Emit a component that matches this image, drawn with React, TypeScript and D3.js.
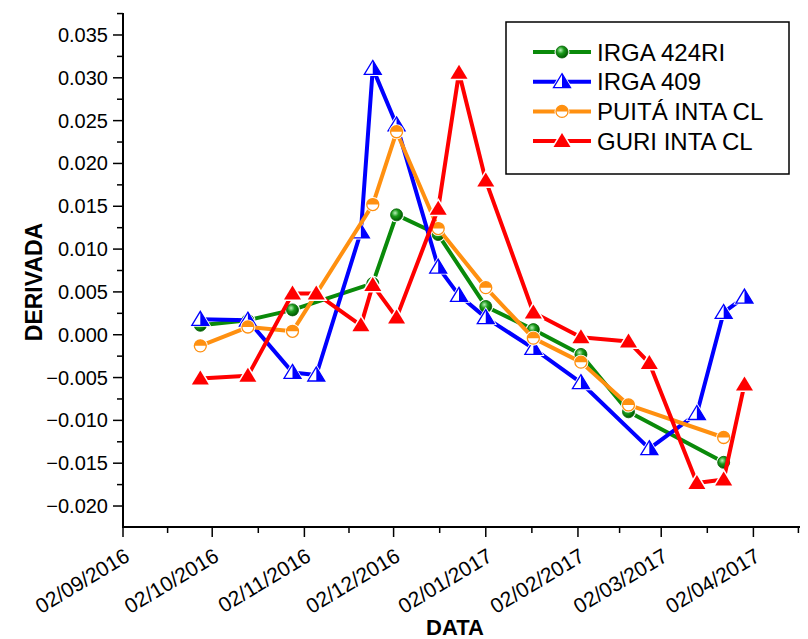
import React, { useEffect, useRef } from 'react';
import * as d3 from 'd3';

// dates of each series (dd)
const dates424 = ["2016-09-28", "2016-10-14", "2016-10-29", "2016-11-25", "2016-12-03", "2016-12-17", "2017-01-02", "2017-01-18", "2017-02-03", "2017-02-19", "2017-03-23"];
const irga424 = [0.0011, 0.0017, 0.0029, 0.0060, 0.0140, 0.0117, 0.0033, 0.0006, -0.0023, -0.0090, -0.0149];

const dates409 = ["2016-09-28", "2016-10-14", "2016-10-29", "2016-11-06", "2016-11-21", "2016-11-25", "2016-12-03", "2016-12-17", "2016-12-24", "2017-01-02", "2017-01-18", "2017-02-03", "2017-02-26", "2017-03-14", "2017-03-23", "2017-03-30"];
const irga409 = [0.0018, 0.0017, -0.0044, -0.0047, 0.0120, 0.0311, 0.0245, 0.0079, 0.0046, 0.0020, -0.0016, -0.0056, -0.0133, -0.0092, 0.0026, 0.0044];

const datesPuita = ["2016-09-28", "2016-10-14", "2016-10-29", "2016-11-25", "2016-12-03", "2016-12-17", "2017-01-02", "2017-01-18", "2017-02-03", "2017-02-19", "2017-03-23"];
const puita = [-0.0013, 0.0009, 0.0004, 0.0152, 0.0237, 0.0124, 0.0055, -0.0004, -0.0032, -0.0082, -0.0120];

const datesGuri = ["2016-09-28", "2016-10-14", "2016-10-29", "2016-11-06", "2016-11-21", "2016-11-25", "2016-12-03", "2016-12-17", "2016-12-24", "2017-01-02", "2017-01-18", "2017-02-03", "2017-02-19", "2017-02-26", "2017-03-14", "2017-03-23", "2017-03-30"];
const guri = [-0.0051, -0.0048, 0.0048, 0.0048, 0.0011, 0.0058, 0.0020, 0.0147, 0.0306, 0.0180, 0.0026, -0.0003, -0.0008, -0.0033, -0.0173, -0.0169, -0.0058];

const xTickDates = ["2016-09-02", "2016-10-02", "2016-11-02", "2016-12-02", "2017-01-02", "2017-02-02", "2017-03-02", "2017-04-02"];
const yTicks = [-0.020, -0.015, -0.010, -0.005, 0.000, 0.005, 0.010, 0.015, 0.020, 0.025, 0.030, 0.035];

const seriesNames = ["IRGA 424RI", "IRGA 409", "PUITÁ INTA CL", "GURI INTA CL"];

const FONT = "'Liberation Sans', Arial, sans-serif";
const GREEN = "#0a8a0a";
const BLUE = "#0000ff";
const ORANGE = "#ff9010";
const RED = "#ff0000";

const parse = d3.timeParse("%Y-%m-%d");

const App = () => {
    const ref = useRef(null);

    useEffect(() => {
        const width = 808;
        const height = 639;
        const left = 123, right = 798, top = 14, bottom = 527;

        const x = d3.scaleTime()
            .domain([parse("2016-09-02"), parse("2017-04-17")])
            .range([left, right]);
        const y = d3.scaleLinear()
            .domain([-0.02245, 0.03745])
            .range([bottom, top]);

        const svg = d3.select(ref.current)
            .attr("width", width)
            .attr("height", height);
        svg.selectAll('*').remove();

        const defs = svg.append("defs");
        const grad = defs.append("radialGradient")
            .attr("id", "ball")
            .attr("cx", "38%").attr("cy", "35%").attr("r", "65%");
        grad.append("stop").attr("offset", "0%").attr("stop-color", "#b8f0b8");
        grad.append("stop").attr("offset", "45%").attr("stop-color", "#1a9a1a");
        grad.append("stop").attr("offset", "100%").attr("stop-color", "#005a00");

        const tri = "M0,-8L8.5,6L-8.5,6Z";
        const triRight = "M0,-8L8.5,6L0,6Z";

        // marker drawers (halo = white gap under the symbol)
        const markers = [
            (g, halo) => {
                if (halo) { g.append("circle").attr("r", 6).attr("fill", "#fff").attr("stroke", "#fff").attr("stroke-width", 3); return; }
                g.append("circle").attr("r", 6).attr("fill", "url(#ball)").attr("stroke", "#006000").attr("stroke-width", 0.8);
            },
            (g, halo) => {
                if (halo) { g.append("path").attr("d", tri).attr("fill", "#fff").attr("stroke", "#fff").attr("stroke-width", 3); return; }
                g.append("path").attr("d", tri).attr("fill", "#fff");
                g.append("path").attr("d", triRight).attr("fill", BLUE);
                g.append("path").attr("d", tri).attr("fill", "none").attr("stroke", BLUE).attr("stroke-width", 1.3);
            },
            (g, halo) => {
                if (halo) { g.append("circle").attr("r", 6).attr("fill", "#fff").attr("stroke", "#fff").attr("stroke-width", 3); return; }
                g.append("circle").attr("r", 6).attr("fill", "#fff");
                g.append("path").attr("d", "M-6,0A6,6 0 0 1 6,0Z").attr("fill", ORANGE);
                g.append("circle").attr("r", 6).attr("fill", "none").attr("stroke", ORANGE).attr("stroke-width", 1.3);
            },
            (g, halo) => {
                if (halo) { g.append("path").attr("d", tri).attr("fill", "#fff").attr("stroke", "#fff").attr("stroke-width", 3); return; }
                g.append("path").attr("d", tri).attr("fill", RED);
            }
        ];

        const series = [
            { dates: dates424, values: irga424, color: GREEN },
            { dates: dates409, values: irga409, color: BLUE },
            { dates: datesPuita, values: puita, color: ORANGE },
            { dates: datesGuri, values: guri, color: RED },
        ];

        const line = d3.line()
            .x(d => x(d[0]))
            .y(d => y(d[1]));

        series.forEach((s, i) => {
            const pts = s.dates.map((d, j) => [parse(d), s.values[j]]);
            const g = svg.append("g");
            g.append("path")
                .attr("d", line(pts))
                .attr("fill", "none")
                .attr("stroke", s.color)
                .attr("stroke-width", 4)
                .attr("stroke-linejoin", "round");
            pts.forEach(p => markers[i](g.append("g").attr("transform", `translate(${x(p[0])},${y(p[1])})`), true));
            pts.forEach(p => markers[i](g.append("g").attr("transform", `translate(${x(p[0])},${y(p[1])})`), false));
        });

        // y axis
        const ya = svg.append("g").attr("stroke", "#000");
        ya.append("line").attr("x1", left).attr("x2", left).attr("y1", top - 1).attr("y2", bottom + 1).attr("stroke-width", 2);
        yTicks.forEach(t => {
            ya.append("line").attr("x1", left - 10).attr("x2", left).attr("y1", y(t)).attr("y2", y(t)).attr("stroke-width", 1.5);
        });
        yTicks.forEach(t => {
            const m = t - 0.0025;
            if (m >= y.domain()[0]) ya.append("line").attr("x1", left - 6).attr("x2", left).attr("y1", y(m)).attr("y2", y(m)).attr("stroke-width", 1.5);
        });
        ya.append("line").attr("x1", left - 6).attr("x2", left).attr("y1", y(0.0375)).attr("y2", y(0.0375)).attr("stroke-width", 1.5);
        svg.append("g")
            .attr("font-family", FONT)
            .attr("font-size", 20)
            .attr("text-anchor", "end")
            .selectAll("text")
            .data(yTicks)
            .join("text")
            .attr("x", left - 15)
            .attr("y", d => y(d) + 7)
            .text(d => d3.format(".3f")(d));

        // x axis
        const xa = svg.append("g").attr("stroke", "#000");
        xa.append("line").attr("x1", left - 1).attr("x2", right + 2).attr("y1", bottom).attr("y2", bottom).attr("stroke-width", 2);
        const xt = xTickDates.map(parse);
        xt.forEach((d, i) => {
            xa.append("line").attr("x1", x(d)).attr("x2", x(d)).attr("y1", bottom).attr("y2", bottom + 10).attr("stroke-width", 1.5);
            const next = i < xt.length - 1 ? x(xt[i + 1]) : x(d) + 90;
            const mx = (x(d) + next) / 2;
            if (mx <= right + 1) xa.append("line").attr("x1", mx).attr("x2", mx).attr("y1", bottom).attr("y2", bottom + 6).attr("stroke-width", 1.5);
        });
        svg.append("g")
            .attr("font-family", FONT)
            .attr("font-size", 21)
            .attr("text-anchor", "end")
            .selectAll("text")
            .data(xt)
            .join("text")
            .attr("transform", d => `translate(${x(d) + 8},${bottom + 33}) rotate(-31)`)
            .text(d => d3.timeFormat("%d/%m/%Y")(d));

        // axis titles
        svg.append("text")
            .attr("font-family", FONT)
            .attr("font-size", 23)
            .attr("font-weight", "bold")
            .attr("text-anchor", "middle")
            .attr("transform", `translate(42,${282}) rotate(-90)`)
            .text("DERIVADA");
        svg.append("text")
            .attr("font-family", FONT)
            .attr("font-size", 22)
            .attr("font-weight", "bold")
            .attr("text-anchor", "middle")
            .attr("x", 455)
            .attr("y", 635)
            .text("DATA");

        // legend
        const lg = svg.append("g");
        lg.append("rect")
            .attr("x", 506).attr("y", 22).attr("width", 283).attr("height", 152)
            .attr("fill", "#fff").attr("stroke", "#000").attr("stroke-width", 1.5);
        seriesNames.forEach((name, i) => {
            const cy = 52 + i * 29.7;
            const row = lg.append("g");
            row.append("line").attr("x1", 533).attr("x2", 591).attr("y1", cy).attr("y2", cy)
                .attr("stroke", series[i].color).attr("stroke-width", 4);
            markers[i](row.append("g").attr("transform", `translate(562,${cy})`), true);
            markers[i](row.append("g").attr("transform", `translate(562,${cy})`), false);
            row.append("text")
                .attr("x", 597).attr("y", cy + 8.5)
                .attr("font-family", FONT)
                .attr("font-size", 24)
                .text(name);
        });
    }, []);

    return (
        <svg ref={ref} style={{ position: 'absolute', left: 0, top: 0, background: '#fff' }}></svg>
    );
};

export default App;
